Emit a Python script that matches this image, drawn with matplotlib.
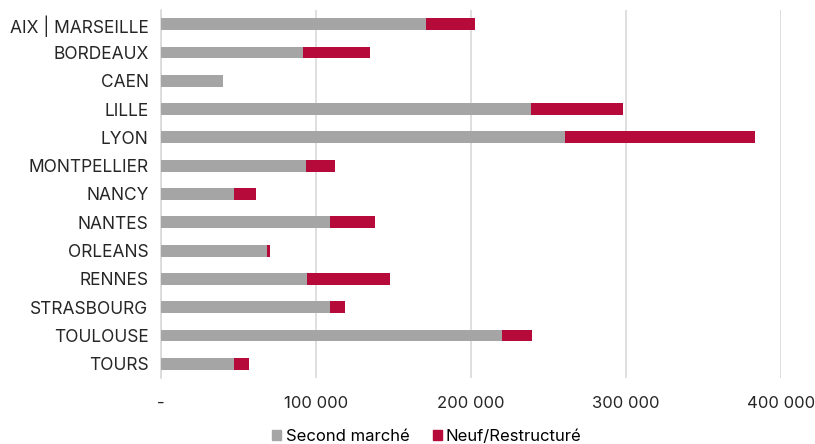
import matplotlib
matplotlib.use("Agg")
import matplotlib.pyplot as plt
from matplotlib.ticker import FuncFormatter
from matplotlib.patches import Patch

cities = ["AIX | MARSEILLE", "BORDEAUX", "CAEN", "LILLE", "LYON", "MONTPELLIER",
          "NANCY", "NANTES", "ORLEANS", "RENNES", "STRASBOURG", "TOULOUSE", "TOURS"]
second_marche = [171000, 91400, 40200, 238500, 260600, 93400, 47000, 108800,
                 68300, 94500, 108800, 220000, 47000]
neuf_restructure = [31600, 43600, 0, 59600, 122800, 19100, 14400, 29000,
                    1700, 53000, 9700, 19300, 9500]
series_names = ["Second marché", "Neuf/Restructuré"]
xticks = [0, 100000, 200000, 300000, 400000]

GREY = "#a5a5a5"
RED = "#b60a3a"

plt.rcParams['font.family'] = ['Inter', 'DejaVu Sans']

fig = plt.figure(figsize=(8.15, 4.44), dpi=100)
ax = fig.add_axes([161/815, 1-378/444, (781-161)/815, (378-10)/444])

y = list(range(len(cities)))
ax.barh(y, second_marche, height=0.42, color=GREY, zorder=3)
ax.barh(y, neuf_restructure, left=second_marche, height=0.42, color=RED, zorder=3)

ax.set_ylim(len(cities)-0.5, -0.5)
ax.set_yticks(y)
ax.set_yticklabels(cities, fontsize=12.5, color="#262626")
ax.set_xlim(0, 400000)
ax.set_xticks(xticks)
ax.xaxis.set_major_formatter(FuncFormatter(
    lambda v, p: "-" if v == 0 else f"{int(v):,}".replace(",", " ")))
ax.tick_params(axis='x', labelsize=12, colors="#262626", length=0, pad=13)
ax.tick_params(axis='y', length=0, pad=9)
ax.grid(axis='x', color="#d9d9d9", linewidth=1.2, zorder=0)
for s in ["top", "right", "bottom"]:
    ax.spines[s].set_visible(False)
ax.spines["left"].set_color("#d9d9d9")
ax.spines["left"].set_linewidth(1.2)

handles = [Patch(color=GREY), Patch(color=RED)]
fig.legend(handles, series_names, loc="center", bbox_to_anchor=(427/815, 1-436/444),
           ncol=2, frameon=False, fontsize=12, handlelength=0.55, handleheight=0.55,
           handletextpad=0.25, columnspacing=1.4)

fig.savefig("out.png", dpi=100)
